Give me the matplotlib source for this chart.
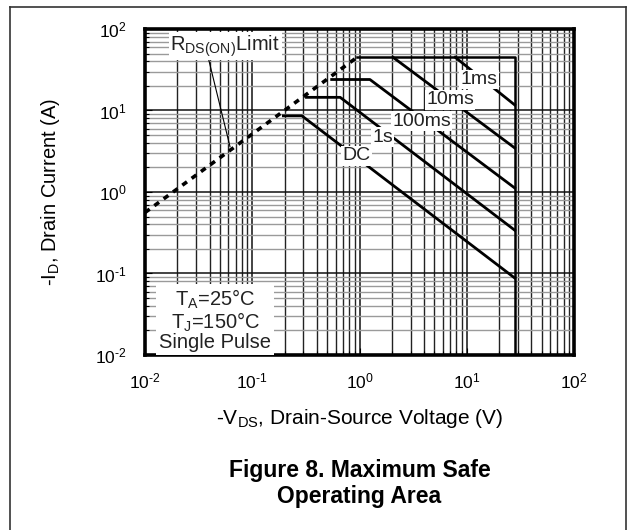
import numpy as np
import matplotlib.pyplot as plt
from matplotlib.lines import Line2D
from matplotlib.ticker import LogLocator, FuncFormatter, NullFormatter

plt.rcParams['font.family'] = ['Liberation Sans', 'DejaVu Sans']
plt.rcParams['mathtext.fontset'] = 'custom'
plt.rcParams['mathtext.rm'] = 'Liberation Sans'
plt.rcParams['mathtext.it'] = 'Liberation Sans'
plt.rcParams['axes.unicode_minus'] = False

# RDS(on) limit (dashed)
lim_v = [0.01, 0.95]
lim_i = [0.56, 45]
# outer envelope: top current limit and max VDS
env_v = [0.95, 28, 28]
env_i = [45, 45, 0.01]
# pulse curves
ms1_v = [7.8, 28]
ms1_i = [45, 11.7]
ms10_v = [2.05, 28]
ms10_i = [45, 3.47]
ms100_v = [0.55, 1.25, 28]
ms100_i = [24, 24, 1.12]
s1_v = [0.32, 0.66, 28]
s1_i = [14.5, 14.5, 0.34]
dc_v = [0.195, 0.29, 28]
dc_i = [8.6, 8.6, 0.088]

curve_labels = ['1ms', '10ms', '100ms', '1s', 'DC']
label_x = [13, 7.0, 3.8, 1.64, 0.94]
label_y = [24, 13.5, 7.4, 4.7, 2.77]


def dec_fmt(val, pos):
    e = int(round(np.log10(val)))
    return r'10$^{\mathregular{%s}}$' % (r'\text{-}%d' % -e if e < 0 else '%d' % e)


fig = plt.figure(figsize=(6.27, 5.30), dpi=100)
ax = fig.add_axes([0.2313, 0.3302, 0.6842, 0.6151])
ax.set_xscale('log')
ax.set_yscale('log')
ax.set_xlim(1e-2, 1e2)
ax.set_ylim(1e-2, 1e2)

# grid
ax.xaxis.set_minor_locator(LogLocator(base=10, subs=np.arange(2, 10)))
ax.yaxis.set_minor_locator(LogLocator(base=10, subs=np.arange(2, 10)))
ax.xaxis.set_minor_formatter(NullFormatter())
ax.yaxis.set_minor_formatter(NullFormatter())
ax.grid(True, which='major', axis='both', color='#111111', lw=1.1)
ax.grid(True, which='minor', axis='x', color='#222222', lw=1.0)
ax.grid(True, which='minor', axis='y', color='#9a9a9a', lw=1.0)
ax.set_axisbelow(True)

for s in ax.spines.values():
    s.set_linewidth(2.6)
ax.tick_params(which='both', direction='in', labelsize=12.5, width=0.8)
ax.tick_params(which='major', length=5)
ax.tick_params(which='minor', length=3)
ax.tick_params(axis='x', pad=12)
ax.tick_params(axis='y', pad=13)
ax.xaxis.set_major_formatter(FuncFormatter(dec_fmt))
ax.yaxis.set_major_formatter(FuncFormatter(dec_fmt))

# curves
ax.plot(lim_v, lim_i, color='black', lw=2.6, ls=(0, (1.6, 1.6)), zorder=3)
ax.plot(env_v, env_i, color='black', lw=1.8, zorder=3)
for v, i in [(ms1_v, ms1_i), (ms10_v, ms10_i), (ms100_v, ms100_i),
             (s1_v, s1_i), (dc_v, dc_i)]:
    ax.plot(v, i, color='black', lw=2.0, zorder=3)

box = dict(facecolor='white', edgecolor='none', pad=1.0)
for lab, x, y in zip(curve_labels, label_x, label_y):
    ax.text(x, y, lab, fontsize=14, ha='center', va='center', color='#222222',
            bbox=box, zorder=5)

# RDS(on) label with leader
ax.text(0.056, 62, r'R$_\mathregular{DS(ON)}$Limit', fontsize=14.5, ha='center',
        va='center', color='#222222', bbox=box, zorder=5)
ax.plot([0.038, 0.062], [50, 3.6], color='black', lw=0.8, zorder=4)

ax.text(0.045, 0.027, 'T$_\\mathregular{A}$=25°C\nT$_\\mathregular{J}$=150°C\nSingle Pulse',
        fontsize=14.5, ha='center', va='center', color='#222222', linespacing=0.95,
        bbox=dict(facecolor='white', edgecolor='none', pad=2.0), zorder=5)

ax.set_xlabel(r'-V$_\mathregular{DS}$, Drain-Source Voltage (V)', fontsize=15, labelpad=11)
ax.set_ylabel(r'-I$_\mathregular{D}$, Drain Current (A)', fontsize=14.5, labelpad=24)

fig.text(0.5734, 1 - 471 / 530, 'Figure 8. Maximum Safe', ha='center',
         va='center', fontsize=16.5, fontweight='bold')
fig.text(0.5734, 1 - 496 / 530, 'Operating Area', ha='center',
         va='center', fontsize=16.5, fontweight='bold')

# outer frame
fr = dict(color='#333333', lw=1.2, transform=fig.transFigure)
fig.add_artist(Line2D([0.016, 0.016], [0.0, 0.987], **fr))
fig.add_artist(Line2D([0.998, 0.998], [0.0, 0.987], **fr))
fig.add_artist(Line2D([0.016, 0.998], [0.987, 0.987], **fr))

fig.savefig('out.png', dpi=100)
